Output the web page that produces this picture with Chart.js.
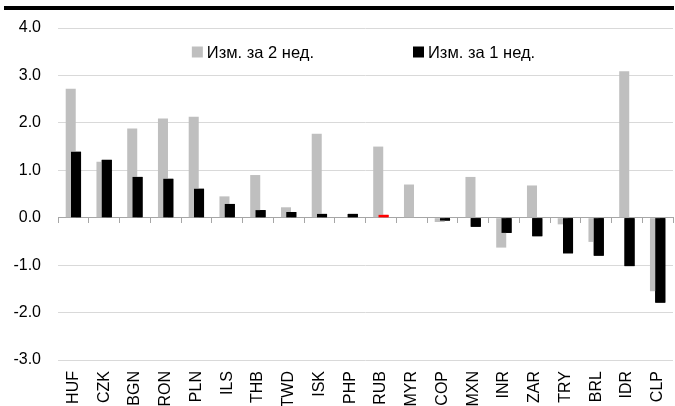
<!DOCTYPE html>
<html>
<head>
<meta charset="utf-8">
<script src="https://cdn.jsdelivr.net/npm/chart.js@4.4.1/dist/chart.umd.min.js"></script>
<style>
    html, body { margin: 0; padding: 0; background: #fff; }
    #wrap { position: relative; width: 675px; height: 406px; }
</style>
</head>
<body>
<div id="wrap"><canvas id="chart"></canvas></div>
<script>
const currencies = ['HUF', 'CZK', 'BGN', 'RON', 'PLN', 'ILS', 'THB', 'TWD', 'ISK', 'PHP',
    'RUB', 'MYR', 'COP', 'MXN', 'INR', 'ZAR', 'TRY', 'BRL', 'IDR', 'CLP'];
const change2w = [2.72, 1.18, 1.88, 2.09, 2.13, 0.45, 0.90, 0.22, 1.77, 0.01,
    1.50, 0.70, -0.09, 0.86, -0.63, 0.68, -0.14, -0.51, 3.09, -1.55];
const change1w = [1.39, 1.22, 0.86, 0.82, 0.61, 0.29, 0.16, 0.12, 0.08, 0.08,
    0.06, -0.01, -0.06, -0.19, -0.32, -0.39, -0.75, -0.80, -1.02, -1.79];
const seriesNames = ['Изм. за 2 нед.', 'Изм. за 1 нед.'];
const yMin = -3;
const yMax = 4;
const yStep = 1;
const highlighted = 'RUB';

const GREY = '#bfbfbf';
const BLACK = '#000000';
const RED = '#ff0000';
const FONT = '"Liberation Sans", Arial, sans-serif';

Chart.defaults.font.family = FONT;
Chart.defaults.font.size = 16;
Chart.defaults.color = '#000';

const decor = {
    id: 'decor',
    beforeDraw(chart) {
        const ctx = chart.ctx;
        ctx.save();
        ctx.fillStyle = '#000';
        ctx.fillRect(4, 6, chart.width - 5, 4);
        ctx.restore();
    },
    afterDatasetsDraw(chart) {
        // excel style overlap: weekly bars go over the two week ones
        chart.getDatasetMeta(1).controller.draw();
    },
    afterDraw(chart) {
        const ctx = chart.ctx;
        const area = chart.chartArea;
        const box = 11, gap = 4, spacing = 99;
        ctx.save();
        ctx.font = '16.5px ' + FONT;
        ctx.textBaseline = 'middle';
        const items = chart.data.datasets.map(ds => ({ text: ds.label, color: ds.legendColor }));
        const widths = items.map(it => box + gap + ctx.measureText(it.text).width);
        const total = widths.reduce((a, b) => a + b, 0) + spacing * (items.length - 1);
        let x = (area.left + area.right) / 2 - total / 2 - 2;
        const y = area.top + 24;
        items.forEach((it, i) => {
            ctx.fillStyle = it.color;
            ctx.fillRect(x, y - box / 2, box, box);
            ctx.fillStyle = '#000';
            ctx.fillText(it.text, x + box + gap, y + 1);
            x += widths[i] + spacing;
        });
        ctx.restore();
    }
};

const canvas = document.getElementById('chart');
const graph = new Chart(canvas.getContext('2d'), {
    type: 'bar',
    data: {
        labels: currencies,
        datasets: [{
            label: seriesNames[0],
            data: change2w,
            backgroundColor: GREY,
            legendColor: GREY,
            categoryPercentage: 0.345,
            barPercentage: 1.89
        }, {
            label: seriesNames[1],
            data: change1w,
            backgroundColor: c => currencies[c.dataIndex] === highlighted ? RED : BLACK,
            legendColor: BLACK,
            categoryPercentage: 0.345,
            barPercentage: 1.89
        }]
    },
    options: {
        responsive: true,
        maintainAspectRatio: false,
        animation: false,
        devicePixelRatio: 1,
        layout: { padding: { top: 28, left: 0, right: 2, bottom: 0 } },
        plugins: {
            legend: { display: false },
            tooltip: { enabled: false }
        },
        scales: {
            x: {
                grid: { display: false, drawTicks: false },
                border: { display: false },
                ticks: { minRotation: 90, maxRotation: 90, autoSkip: false, padding: 11 },
                afterFit: s => {
                    s.height = 46;
                    s.paddingLeft = 0;
                    s.paddingRight = 0;
                }
            },
            x2: {
                axis: 'x',
                type: 'category',
                labels: currencies,
                position: { y: 0 },
                offset: true,
                grid: { offset: true, drawOnChartArea: false, tickLength: 5, color: '#a6a6a6' },
                border: { color: '#a6a6a6' },
                ticks: { display: false }
            },
            y: {
                min: yMin,
                max: yMax,
                ticks: { stepSize: yStep, padding: 17, callback: v => v.toFixed(1) },
                grid: { color: '#d9d9d9', drawTicks: false },
                border: { display: false },
                afterFit: s => { s.width = 58; }
            }
        }
    },
    plugins: [decor]
});
</script>
</body>
</html>
